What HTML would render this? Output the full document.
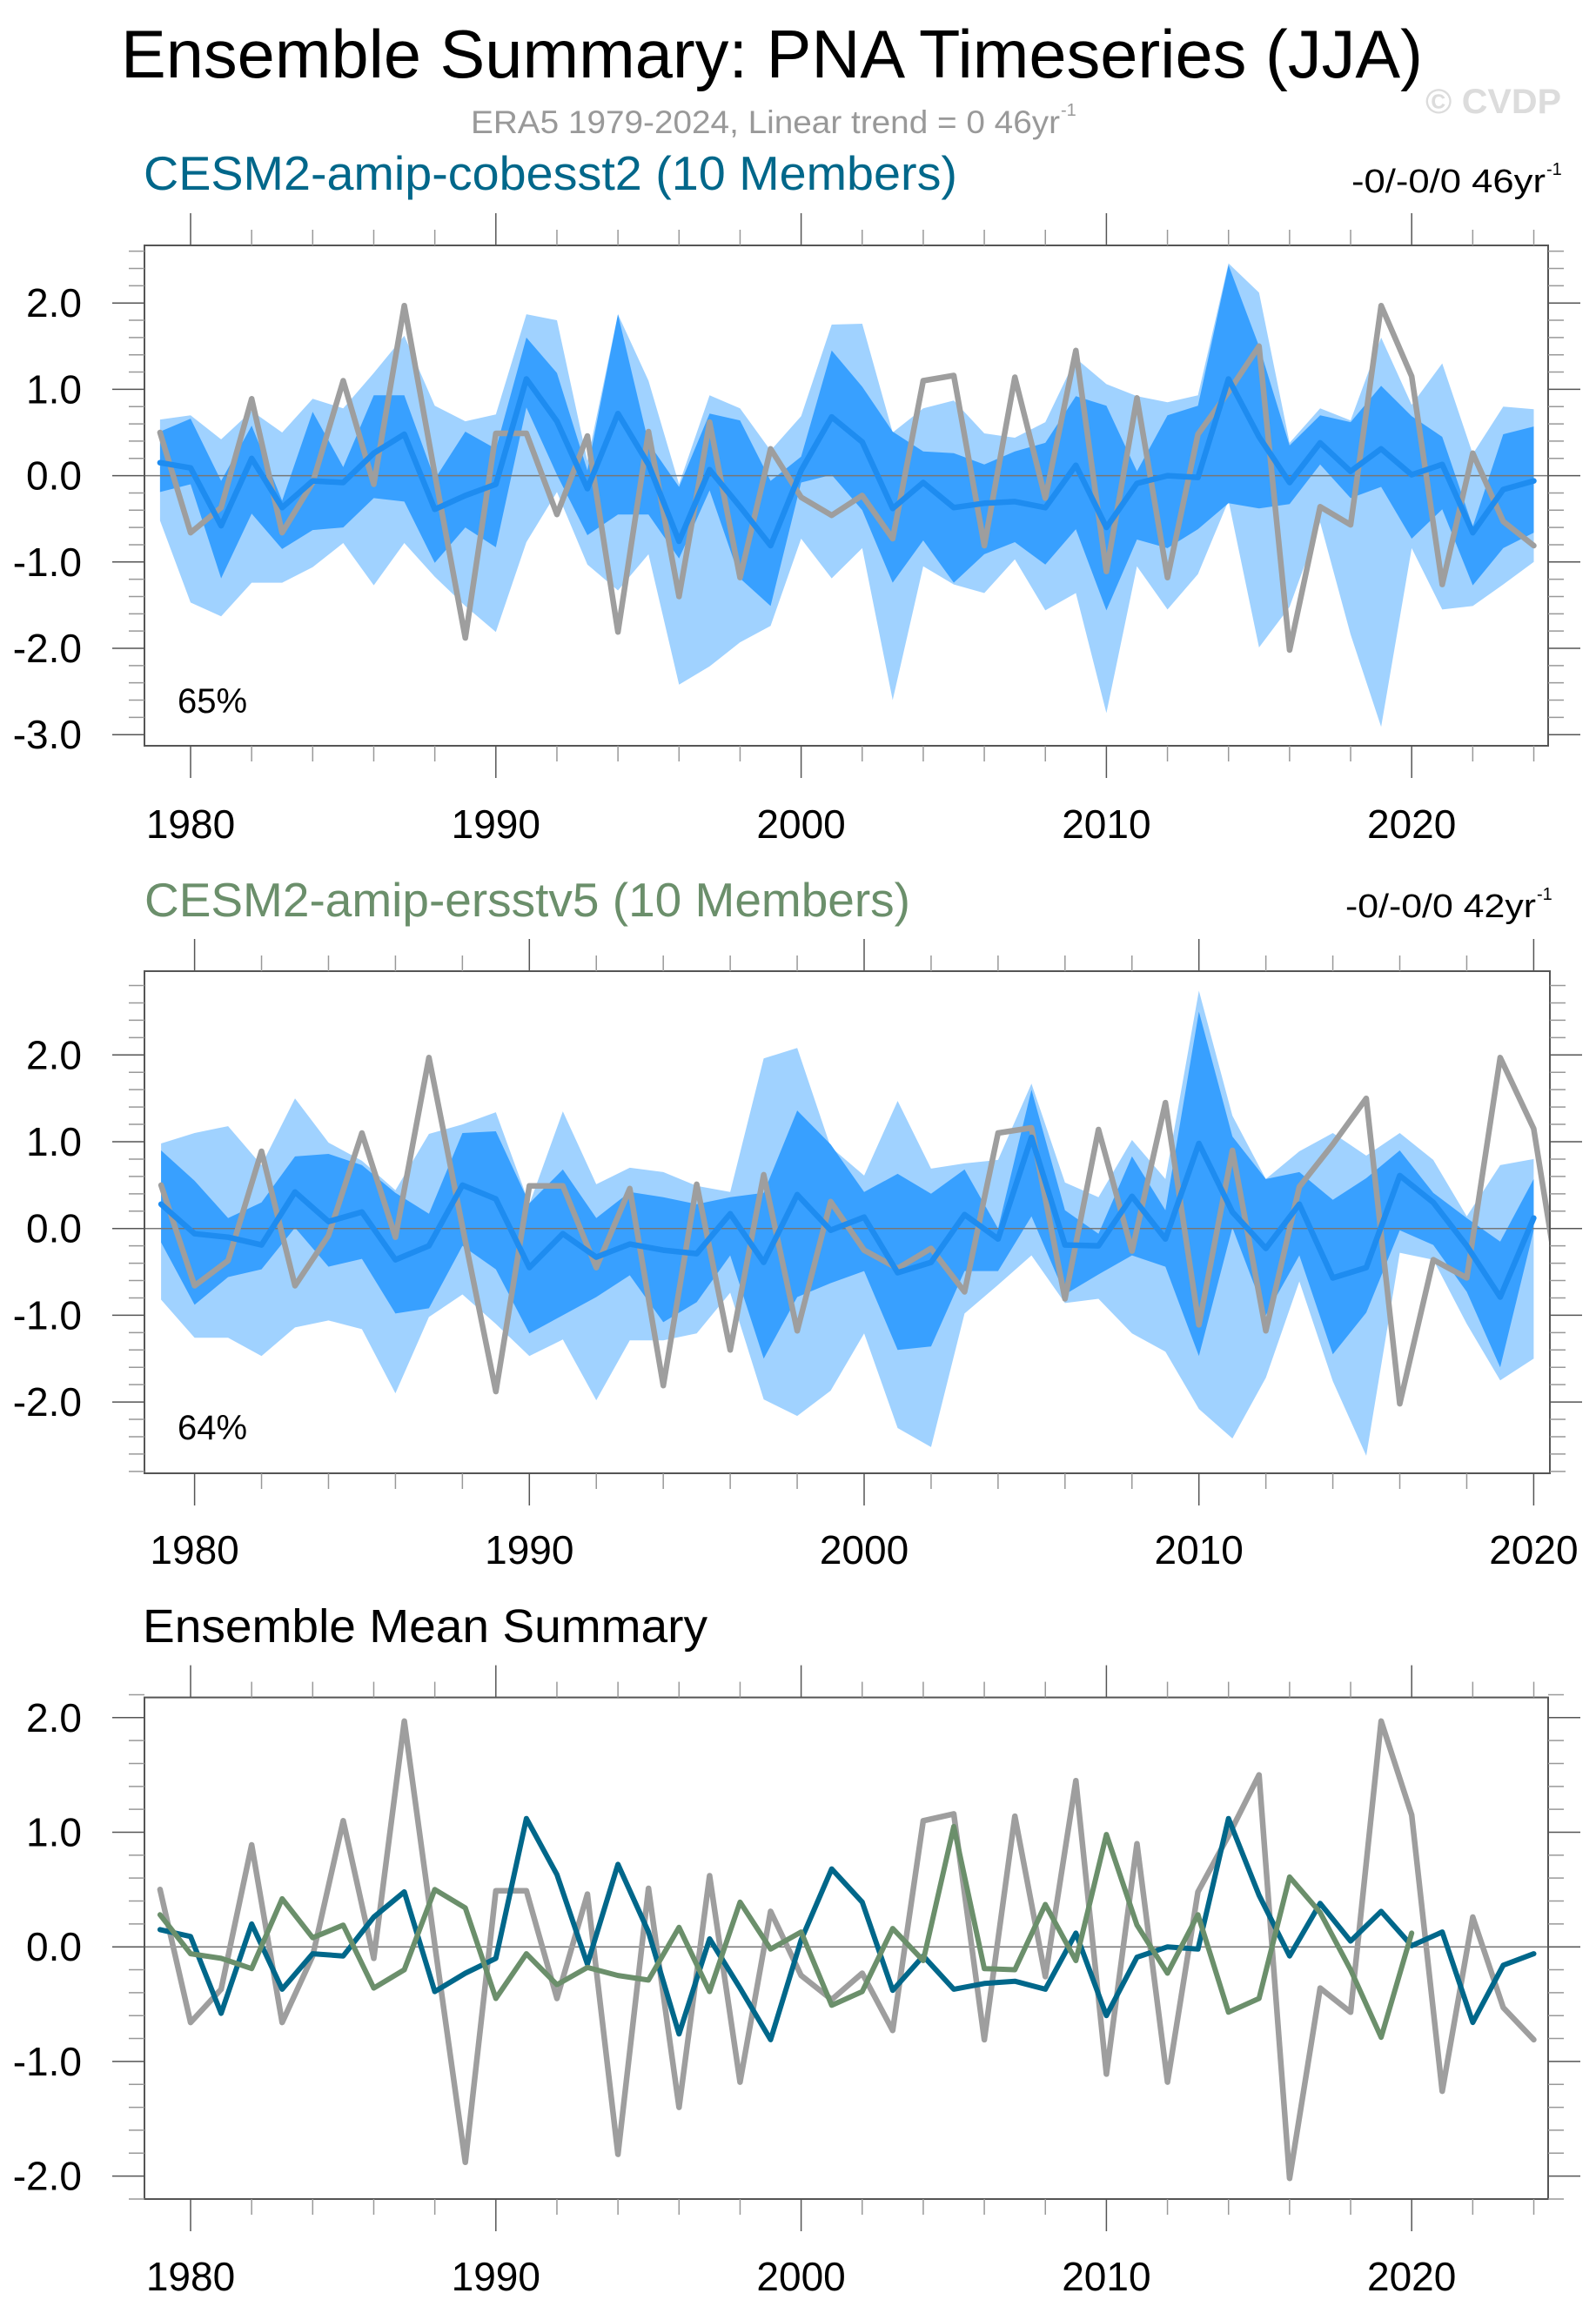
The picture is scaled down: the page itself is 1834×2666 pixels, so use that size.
<!DOCTYPE html>
<html><head><meta charset="utf-8"><style>
html,body{margin:0;padding:0;background:#fff}
svg{display:block}
text{font-family:"Liberation Sans",sans-serif}
</style></head><body>
<svg id="chart" xmlns="http://www.w3.org/2000/svg" width="1834" height="2666" viewBox="0 0 1834 2666">
<rect width="1834" height="2666" fill="#fff"/>
<text x="139" y="89" font-size="78" textLength="1496" lengthAdjust="spacingAndGlyphs" fill="#000">Ensemble Summary: PNA Timeseries (JJA)</text>
<text x="1638" y="130" font-size="40" font-weight="bold" textLength="156" lengthAdjust="spacingAndGlyphs" fill="#dcdcdc">© CVDP</text>
<text x="541" y="153" font-size="37" textLength="677" lengthAdjust="spacingAndGlyphs" fill="#999">ERA5 1979-2024, Linear trend = 0 46yr</text>
<text x="1219" y="133" font-size="20" fill="#999">-1</text>
<text x="165" y="218" font-size="55" textLength="935" lengthAdjust="spacingAndGlyphs" fill="#00678a">CESM2-amip-cobesst2 (10 Members)</text>
<text x="1553" y="221" font-size="38" textLength="223" lengthAdjust="spacingAndGlyphs" fill="#000">-0/-0/0 46yr</text>
<text x="1777" y="201" font-size="20" fill="#000">-1</text>
<text x="166" y="1053" font-size="55" textLength="880" lengthAdjust="spacingAndGlyphs" fill="#6b8f6b">CESM2-amip-ersstv5 (10 Members)</text>
<text x="1546" y="1054" font-size="38" textLength="219" lengthAdjust="spacingAndGlyphs" fill="#000">-0/-0/0 42yr</text>
<text x="1766" y="1034" font-size="20" fill="#000">-1</text>
<text x="164" y="1887" font-size="54" textLength="649" lengthAdjust="spacingAndGlyphs" fill="#000">Ensemble Mean Summary</text>
<g id="plots"></g>
</svg>
<script>
const years = [];
for (let y = 1979; y <= 2024; y++) years.push(y);
const yearsErsst = years.slice(0, 42);
const era5 = [0.50,-0.66,-0.37,0.89,-0.66,-0.08,1.10,-0.10,1.97,0.02,-1.88,0.49,0.49,-0.45,0.46,-1.81,0.51,-1.40,0.62,-1.18,0.31,-0.25,-0.46,-0.23,-0.73,1.10,1.16,-0.81,1.14,-0.26,1.45,-1.11,0.90,-1.18,0.48,0.97,1.50,-2.02,-0.36,-0.57,1.97,1.15,-1.26,0.26,-0.53,-0.81];
const cobeMean = [0.15,0.09,-0.58,0.20,-0.37,-0.06,-0.08,0.26,0.48,-0.39,-0.23,-0.10,1.12,0.63,-0.15,0.72,0.13,-0.76,0.07,-0.36,-0.81,0.06,0.68,0.39,-0.38,-0.08,-0.37,-0.32,-0.30,-0.37,0.12,-0.60,-0.09,0.00,-0.02,1.12,0.45,-0.08,0.38,0.05,0.31,0.01,0.13,-0.66,-0.16,-0.06];
const cobeDarkHi = [0.51,0.66,-0.06,0.58,-0.29,0.74,0.10,0.93,0.93,-0.04,0.51,0.31,1.60,1.19,0.06,1.87,0.38,-0.13,0.72,0.64,-0.06,0.22,1.45,1.03,0.51,0.28,0.26,0.13,0.28,0.38,0.92,0.81,0.05,0.70,0.81,2.44,1.50,0.35,0.70,0.62,1.04,0.69,0.45,-0.59,0.48,0.57];
const cobeDarkLo = [-0.19,-0.10,-1.19,-0.44,-0.85,-0.63,-0.60,-0.26,-0.30,-1.01,-0.60,-0.83,0.79,0.01,-0.69,-0.45,-0.45,-0.96,-0.17,-1.19,-1.51,-0.08,0.01,-0.40,-1.24,-0.75,-1.24,-0.91,-0.77,-1.03,-0.62,-1.56,-0.74,-0.84,-0.62,-0.32,-0.38,-0.33,0.13,-0.26,-0.13,-0.73,-0.39,-1.27,-0.84,-0.66];
const cobeLightHi = [0.65,0.70,0.42,0.75,0.50,0.89,0.78,1.19,1.62,0.81,0.63,0.71,1.87,1.80,0.17,1.87,1.10,-0.10,0.93,0.78,0.29,0.69,1.75,1.76,0.50,0.78,0.87,0.49,0.44,0.62,1.36,1.06,0.92,0.85,0.93,2.46,2.12,0.38,0.78,0.64,1.60,0.82,1.30,0.25,0.80,0.77];
const cobeLightLo = [-0.52,-1.47,-1.63,-1.24,-1.24,-1.06,-0.78,-1.27,-0.78,-1.17,-1.51,-1.81,-0.77,-0.19,-1.03,-1.33,-0.91,-2.42,-2.21,-1.93,-1.74,-0.73,-1.19,-0.84,-2.60,-1.05,-1.26,-1.36,-0.97,-1.56,-1.36,-2.75,-1.05,-1.55,-1.14,-0.29,-1.99,-1.52,-0.54,-1.84,-2.91,-0.84,-1.55,-1.51,-1.26,-1.00];
const ersstMean = [0.28,-0.06,-0.10,-0.19,0.42,0.08,0.19,-0.36,-0.20,0.50,0.34,-0.45,-0.06,-0.33,-0.18,-0.25,-0.29,0.17,-0.39,0.39,-0.02,0.13,-0.51,-0.39,0.16,-0.12,1.05,-0.19,-0.20,0.37,-0.12,0.98,0.19,-0.23,0.28,-0.57,-0.45,0.61,0.30,-0.20,-0.79,0.12];
const ersstDarkHi = [0.90,0.55,0.12,0.30,0.83,0.86,0.73,0.41,0.17,1.10,1.12,0.29,0.68,0.12,0.42,0.36,0.28,0.36,0.41,1.36,0.97,0.42,0.63,0.40,0.68,0.00,1.60,0.21,-0.06,0.83,0.21,2.50,1.06,0.57,0.65,0.33,0.58,0.90,0.41,0.12,-0.15,0.57];
const ersstDarkLo = [-0.16,-0.88,-0.56,-0.47,0.01,-0.44,-0.35,-0.98,-0.92,-0.20,-0.47,-1.21,-1.00,-0.79,-0.54,-1.08,-0.85,-0.31,-1.50,-0.79,-0.63,-0.49,-1.40,-1.36,-0.49,-0.49,0.14,-0.76,-0.53,-0.31,-0.44,-1.47,0.01,-1.00,-0.31,-1.45,-0.97,-0.02,-0.19,-0.73,-1.60,-0.02];
const ersstLightHi = [0.98,1.10,1.18,0.73,1.50,0.99,0.78,0.44,1.09,1.20,1.34,0.28,1.35,0.51,0.70,0.65,0.49,0.42,1.96,2.08,0.94,0.61,1.47,0.69,0.75,0.79,1.67,0.53,0.36,1.02,0.57,2.74,1.30,0.57,0.89,1.10,0.84,1.10,0.79,0.14,0.73,0.80];
const ersstLightLo = [-0.82,-1.26,-1.26,-1.47,-1.14,-1.06,-1.16,-1.90,-1.02,-0.76,-1.10,-1.47,-1.28,-1.98,-1.29,-1.29,-1.21,-0.74,-1.97,-2.16,-1.87,-1.21,-2.30,-2.52,-0.98,-0.65,-0.31,-0.86,-0.81,-1.21,-1.42,-2.08,-2.42,-1.72,-0.61,-1.76,-2.62,-0.28,-0.36,-1.10,-1.75,-1.50];
const yMajor1 = [-3,-2,-1,0,1,2];
const yMajor2 = [-2,-1,0,1,2];
const yMajor3 = [-2,-1,0,1,2];
const xTickLabels = [1980,1990,2000,2010,2020];
const pct1 = "65%";
const pct2 = "64%";

const NS = "http://www.w3.org/2000/svg";
const root = document.getElementById('plots');
function mk(tag, attrs, parent) {
  const e = document.createElementNS(NS, tag);
  for (const k in attrs) e.setAttribute(k, attrs[k]);
  (parent || root).appendChild(e);
  return e;
}
function makePanel(p) {
  const xs = v => p.x1980 + (v - 1980) * p.perYear;
  const ys = v => p.zeroY - v * p.unit;
  const g = mk('g', {});
  
  
  const clipId = p.name + '-clip';
  const cp = mk('clipPath', {id: clipId}, g);
  mk('rect', {x: p.x0, y: p.y0, width: p.x1 - p.x0, height: p.y1 - p.y0}, cp);
  const plot = mk('g', {'clip-path': 'url(#' + clipId + ')'}, g);
  function band(yrs, hi, lo, color, nm) {
    let d = '';
    yrs.forEach((y, i) => { d += (i ? 'L' : 'M') + xs(y).toFixed(1) + ',' + ys(hi[i]).toFixed(1); });
    for (let i = yrs.length - 1; i >= 0; i--) d += 'L' + xs(yrs[i]).toFixed(1) + ',' + ys(lo[i]).toFixed(1);
    const e = mk('path', {d: d + 'Z', fill: color}, plot);
    
    
  }
  function line(yrs, vals, color, w, nm) {
    const pts = yrs.map((y, i) => xs(y).toFixed(1) + ',' + ys(vals[i]).toFixed(1)).join(' ');
    const e = mk('polyline', {points: pts, fill: 'none', stroke: color, 'stroke-width': w, 'stroke-linejoin': 'round', 'stroke-linecap': 'round'}, plot);
    
    
  }
  (p.bands || []).forEach(b => band(b.yrs, b.hi, b.lo, b.color, b.name));
  const zl = mk('line', {x1: p.x0, x2: p.x1, y1: ys(0), y2: ys(0), stroke: '#777', 'stroke-width': 1.5}, plot);
  
  
  p.lines.forEach(l => line(l.yrs, l.vals, l.color, l.w, l.name));
  // box
  const box = mk('rect', {x: p.x0, y: p.y0, width: p.x1 - p.x0, height: p.y1 - p.y0, fill: 'none', stroke: '#555', 'stroke-width': 2}, g);
  
  
  // x ticks
  for (let y = 1980; y <= p.lastYear; y += 2) {
    const major = y % 10 === 0;
    const L = major ? 37 : 18;
    const x = xs(y);
    mk('line', {x1: x, x2: x, y1: p.y0, y2: p.y0 - L, stroke: major ? '#555' : '#999', 'stroke-width': 1.5}, g);
    mk('line', {x1: x, x2: x, y1: p.y1, y2: p.y1 + L, stroke: major ? '#555' : '#999', 'stroke-width': 1.5}, g);
  }
  xTickLabels.forEach(v => {
    const t = mk('text', {x: xs(v), y: p.labelY, 'font-size': 46, 'text-anchor': 'middle', fill: '#000'}, g);
    t.textContent = v;
    
    
  });
  // y ticks
  for (let k = Math.round(p.minTick * 5); k <= Math.round(p.maxTick * 5); k++) {
    const v = k / 5;
    const major = k % 5 === 0;
    const L = major ? 37 : 18;
    const y = ys(v);
    mk('line', {x1: p.x0, x2: p.x0 - L, y1: y, y2: y, stroke: major ? '#555' : '#999', 'stroke-width': 1.5}, g);
    mk('line', {x1: p.x1, x2: p.x1 + L, y1: y, y2: y, stroke: major ? '#555' : '#999', 'stroke-width': 1.5}, g);
  }
  p.yMajor.forEach(v => {
    const t = mk('text', {x: 94, y: ys(v) + 16, 'font-size': 46, 'text-anchor': 'end', fill: '#000'}, g);
    t.textContent = v.toFixed(1);
    
    
  });
  if (p.pct) {
    const t = mk('text', {x: 204, y: p.pctY, 'font-size': 40, fill: '#000'}, g);
    t.textContent = p.pct;
    
    
  }
}
const LIGHT = '#a0d2ff', DARK = '#38a0ff', MEANB = '#1e8cf0', GREY = '#9e9e9e', TEAL = '#00678a', GREEN = '#6b8f6b';
makePanel({name: 'panel-cobesst2', x0: 166, x1: 1779, y0: 282, y1: 857, zeroY: 546.6, unit: 99.2, x1980: 219, perYear: 35.08,
  lastYear: 2024, labelY: 963, minTick: -3.0, maxTick: 2.6, yMajor: yMajor1, pct: pct1, pctY: 819,
  bands: [{yrs: years, hi: cobeLightHi, lo: cobeLightLo, color: LIGHT, name: 'cobe-outer-range'},
          {yrs: years, hi: cobeDarkHi, lo: cobeDarkLo, color: DARK, name: 'cobe-inner-range'}],
  lines: [{yrs: years, vals: era5, color: GREY, w: 6.5, name: 'era5-line'},
          {yrs: years, vals: cobeMean, color: MEANB, w: 6.5, name: 'cobe-mean-line'}]});
makePanel({name: 'panel-ersstv5', x0: 166, x1: 1781, y0: 1116, y1: 1693, zeroY: 1411.7, unit: 99.7, x1980: 223.6, perYear: 38.47,
  lastYear: 2020, labelY: 1797, minTick: -2.8, maxTick: 2.8, yMajor: yMajor2, pct: pct2, pctY: 1654,
  bands: [{yrs: yearsErsst, hi: ersstLightHi, lo: ersstLightLo, color: LIGHT, name: 'ersst-outer-range'},
          {yrs: yearsErsst, hi: ersstDarkHi, lo: ersstDarkLo, color: DARK, name: 'ersst-inner-range'}],
  lines: [{yrs: years, vals: era5, color: GREY, w: 6.5, name: 'era5-line'},
          {yrs: yearsErsst, vals: ersstMean, color: MEANB, w: 6.5, name: 'ersst-mean-line'}]});
makePanel({name: 'panel-ensemble-mean', x0: 166, x1: 1779, y0: 1950.6, y1: 2527, zeroY: 2237.2, unit: 131.7, x1980: 219, perYear: 35.08,
  lastYear: 2024, labelY: 2632, minTick: -2.2, maxTick: 2.2, yMajor: yMajor3,
  lines: [{yrs: years, vals: era5, color: GREY, w: 6.5, name: 'era5-line'},
          {yrs: years, vals: cobeMean, color: TEAL, w: 6, name: 'cobe-mean-line'},
          {yrs: yearsErsst, vals: ersstMean, color: GREEN, w: 6, name: 'ersst-mean-line'}]});
</script>
</body></html>
